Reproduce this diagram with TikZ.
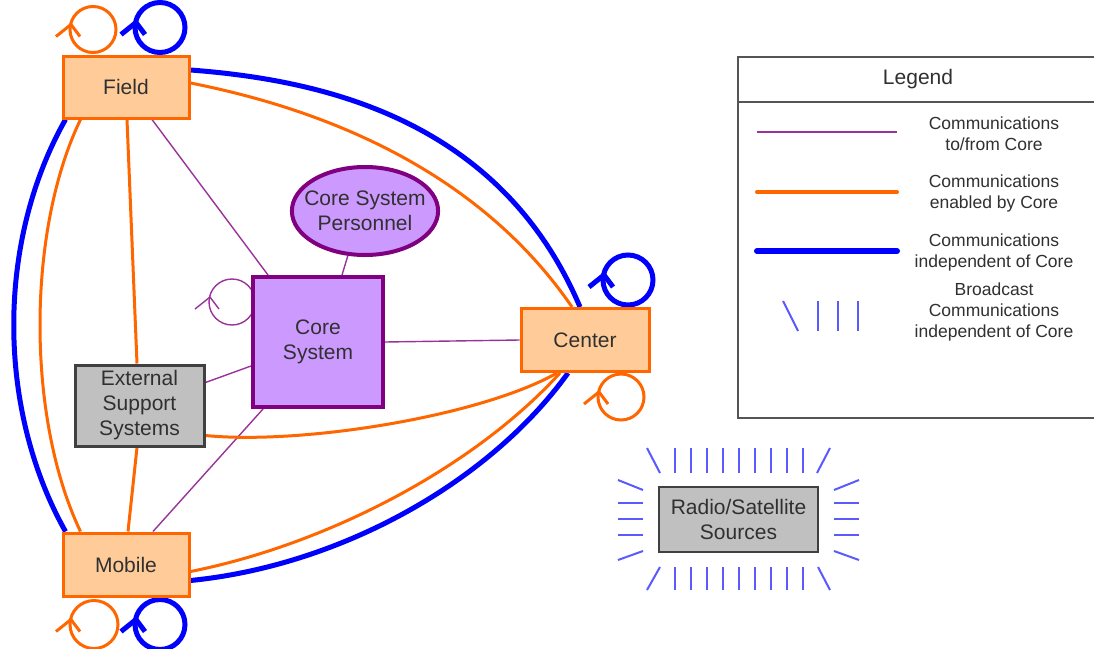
\documentclass[tikz,border=0pt]{standalone}
\usepackage{fontspec}
\setmainfont{Liberation Sans}
\usetikzlibrary{calc,shapes.geometric}
\pgfdeclarelayer{canvas}
\pgfdeclarelayer{background}
\pgfsetlayers{canvas,background,main}

\definecolor{orangeln}{HTML}{FF6600}
\definecolor{orangefill}{HTML}{FFCC99}
\definecolor{purpleln}{HTML}{800080}
\definecolor{purplefill}{HTML}{CC99FF}
\definecolor{corelink}{HTML}{993399}
\definecolor{indep}{HTML}{0000FF}
\definecolor{bcast}{HTML}{5A5AFF}
\definecolor{greyfill}{HTML}{C0C0C0}
\definecolor{greyln}{HTML}{404040}
\definecolor{txt}{HTML}{303030}
\definecolor{legendln}{HTML}{555555}

% self-loop: circle with an open chevron on its left side
% #1 line style, #2 centre coordinate, #3 radius
\newcommand{\commloop}[3]{%
  \draw[#1] (#2) circle[radius=#3pt];
  \draw[#1, line join=round] ($(#2)+(-#3-14,7)$) -- ($(#2)+(-#3+1,-5)$) -- ($(#2)+(-#3+10,7)$);}

\begin{document}
\begin{tikzpicture}[x=1pt,y=-1pt,
  every node/.style={text=txt, font=\fontsize{21}{25}\selectfont, align=center, inner sep=0pt},
  agency/.style={rectangle, draw=orangeln, fill=orangefill, line width=3pt,
                 minimum width=126pt, minimum height=62pt},
  corebox/.style={rectangle, draw=purpleln, fill=purplefill, line width=4pt,
                  minimum width=130pt, minimum height=130pt},
  staff/.style={ellipse, draw=purpleln, fill=purplefill, line width=4pt,
                inner xsep=-9pt, minimum width=146pt, minimum height=88pt},
  greybox/.style={rectangle, draw=greyln, fill=greyfill, line width=3pt},
  tocore/.style={draw=corelink, line width=1.4pt},
  enabled/.style={draw=orangeln, line width=3pt},
  indepst/.style={draw=indep, line width=5pt},
  bcastst/.style={draw=bcast, line width=2pt},
  legtext/.style={font=\fontsize{17.5}{21}\selectfont}
]
\useasboundingbox (0,0) rectangle (1094,648);
\begin{pgfonlayer}{canvas}
  \fill[white] (-10,-10) rectangle (1104,660);
\end{pgfonlayer}

% ---------- nodes ----------
\node[agency] (field) at (126,87) {Field};
\node[agency, minimum height=63pt] (mobile) at (126,564.5) {Mobile};
\node[agency, minimum width=128pt, minimum height=63pt] (center) at (585,340) {Center};
\node[corebox] (core) at (318,342) {Core\\System};
\node[staff] (pers) at (365,211) {Core System\\Personnel};
\node[greybox, minimum width=129pt, minimum height=81pt] (ext) at (139.5,405.5) {External\\Support\\Systems};
\node[greybox, line width=1.5pt, minimum width=159pt, minimum height=65pt] (radio) at (738.5,519.5) {Radio/Satellite\\Sources};

% ---------- connectors ----------
\begin{pgfonlayer}{background}
  % communications to/from the core
  \draw[tocore] ($(field.south)+(26,0)$) -- ($(core.north)+(-50,0)$);
  \draw[tocore] (pers.-111) -- ($(core.north)+(24,0)$);
  \draw[tocore] (core.east) -- (center.west);
  \draw[tocore] ($(core.west)+(0,24)$) -- ($(ext.east)+(0,-23)$);
  \draw[tocore] ($(core.south)+(-55,0)$) -- ($(mobile.north)+(27,0)$);
  \coordinate (coreloop) at ($(core.west)+(-19,-40)$);
  \commloop{tocore}{coreloop}{23}

  % communications enabled by the core
  \draw[enabled] ($(field.south west)+(19,0)$) .. controls +(-54,112) and +(-54,-113) .. ($(mobile.north west)+(19,0)$);
  \draw[enabled] ($(field.south)+(1,0)$) -- ($(ext.north)+(-2.5,0)$);
  \draw[enabled] ($(ext.south)+(-2.5,0)$) -- ($(mobile.north)+(2,0)$);
  \draw[enabled] ($(field.east)+(0,-4)$) .. controls +(111,22) and +(-102,-148.5) .. ($(center.north)+(-13,0)$);
  \draw[enabled] ($(center.south)+(-28,0)$) .. controls +(-77,43.5) and +(96,9.5) .. ($(ext.east)+(0,30)$);
  \draw[enabled] ($(center.south)+(-25,0)$) .. controls +(-90,98.5) and +(131,-26) .. ($(mobile.east)+(0,7)$);

  % communications independent of the core
  \draw[indepst] ($(field.south west)+(4,0)$) .. controls +(-69,122) and +(-69,-123) .. ($(mobile.north west)+(4,0)$);
  \draw[indepst] ($(field.east)+(0,-17)$) .. controls +(131,10) and +(-80,-188.5) .. ($(center.north)+(-5,0)$);
  \draw[indepst] ($(center.south)+(-17,0)$) .. controls +(-78,108.5) and +(151,-15) .. ($(mobile.east)+(0,16)$);

  % self-loops
  \coordinate (fieldloopA) at ($(field.north)+(-33,-25)$);
  \coordinate (fieldloopB) at ($(field.north)+(34,-27)$);
  \coordinate (mobileloopA) at ($(mobile.south)+(-32,27)$);
  \coordinate (mobileloopB) at ($(mobile.south)+(34,27)$);
  \coordinate (centerloopB) at ($(center.north)+(43,-27)$);
  \coordinate (centerloopA) at ($(center.south)+(36,24)$);
  \commloop{enabled}{fieldloopA}{23}
  \commloop{indepst}{fieldloopB}{25}
  \commloop{enabled}{mobileloopA}{24}
  \commloop{indepst}{mobileloopB}{25}
  \commloop{indepst}{centerloopB}{25}
  \commloop{enabled}{centerloopA}{23}
\end{pgfonlayer}

% ---------- broadcast rays around the radio sources ----------
\foreach \k in {0,...,8}{
  \draw[bcastst] ($(radio.center)+(-64+16*\k,-71.5)$) -- ++(0,25);
  \draw[bcastst] ($(radio.center)+(-64+16*\k,47.5)$) -- ++(0,23);
}
\draw[bcastst] ($(radio.center)+(-91.5,-71.5)$) -- ++(13,25);
\draw[bcastst] ($(radio.center)+(91.5,-71.5)$) -- ++(-13,25);
\draw[bcastst] ($(radio.center)+(-78.5,47.5)$) -- ++(-13,23);
\draw[bcastst] ($(radio.center)+(79.5,47.5)$) -- ++(12,23);
\foreach \s in {-1,1}{
  \draw[bcastst] ($(radio.center)+(\s*120.5,-39.5)$) -- ++(-\s*25,10);
  \draw[bcastst] ($(radio.center)+(\s*120.5,40.5)$) -- ++(-\s*25,-9);
  \foreach \yy in {-16.5,-0.5,15.5}
    \draw[bcastst] ($(radio.center)+(\s*120.5,\yy)$) -- ++(-\s*25,0);
}

% ---------- legend ----------
\draw[legendln, line width=2pt] (1100,57) -- (738,57) -- (738,418) -- (1100,418);
\draw[legendln, line width=2pt] (738,102) -- (1100,102);
\node (legtitle) at (918,79) {Legend};
\draw[tocore] (757,132) -- (897,132);
\draw[enabled, line width=4pt, line cap=round] (757,192) -- (897,192);
\draw[indepst, line width=6pt, line cap=round] (757,251) -- (897,251);
\draw[bcastst] (783,301) -- (798,331);
\foreach \xx in {818,838,858}
  \draw[bcastst] (\xx,301) -- (\xx,331);
\node[legtext] (legA) at (994,133.5) {Communications\\to/from Core};
\node[legtext] (legB) at (994,193.5) {Communications\\enabled by Core};
\node[legtext] (legC) at (994,252.5) {Communications\\independent of Core};
\node[legtext] (legD) at (994,312) {Broadcast\\Communications\\independent of Core};
\end{tikzpicture}
\end{document}
